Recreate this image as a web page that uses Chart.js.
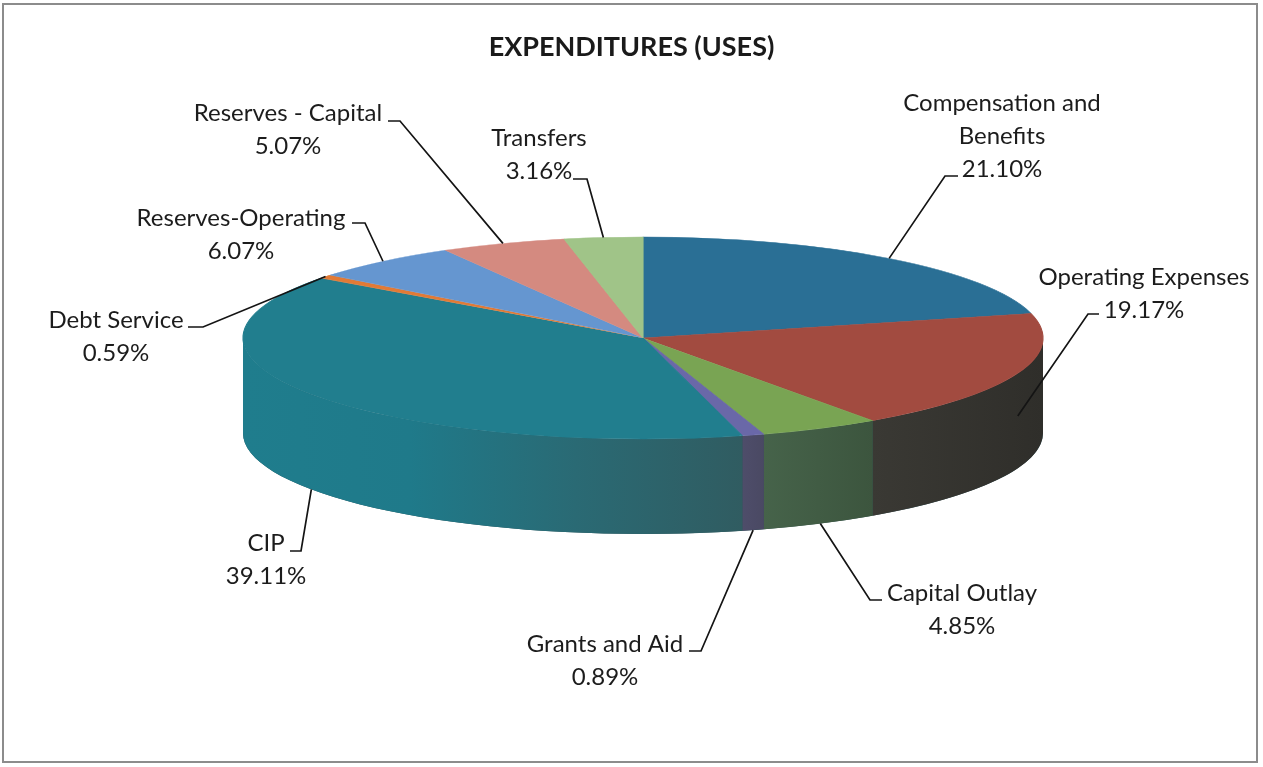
<!DOCTYPE html>
<html><head><meta charset="utf-8">
<script src="https://cdn.jsdelivr.net/npm/chart.js@4"></script>
<style>
html,body{margin:0;padding:0;background:#fff;}
#wrap{position:relative;width:1263px;height:767px;overflow:hidden;}
#frame{position:absolute;left:2px;top:3px;width:1256px;height:760px;border:2px solid #8c8c8c;box-sizing:border-box;pointer-events:none;}
canvas{position:absolute;left:0;top:0;}
</style></head><body>
<div id="wrap"><canvas id="c" width="1263" height="767"></canvas><div id="frame"></div></div>
<script>
// ---- data ----
const categories = ['Compensation and Benefits','Operating Expenses','Capital Outlay','Grants and Aid','CIP','Debt Service','Reserves-Operating','Reserves - Capital','Transfers'];
const values = [21.10, 19.17, 4.85, 0.89, 39.11, 0.59, 6.07, 5.07, 3.16];
const labelLines = [['Compensation and','Benefits'],['Operating Expenses'],['Capital Outlay'],['Grants and Aid'],['CIP'],['Debt Service'],['Reserves-Operating'],['Reserves - Capital'],['Transfers']];
const titleText = 'EXPENDITURES (USES)';

// ---- style ----
const topColors  = ['#2a6f95','#a24b40','#79a453','#6a68a8','#217e8e','#e27a35','#6596d0','#d48a80','#a0c488'];
const sideColors = [
  ['#1d4d68','#1d4d68'],
  ['#3a3934','#2f2e2a'],
  ['#46634a','#3c553e'],
  ['#4e4d6a','#4a4963'],
  ['#1f7d8d','#1f7a8a','#2a6a74','#305c61'],
  ['#9c5424','#9c5424'],
  ['#466a92','#466a92'],
  ['#945f59','#945f59'],
  ['#6f895e','#6f895e']
];
// label layout: text centre x, first line centre y, leader: tail x, elbow x, y, attach depth fraction
const labelLayout = [
  {x:1002, y:103, tail:958,  elbow:945,  hy:176, attach:0},
  {x:1144, y:277, tail:1099, elbow:1088, hy:314, attach:0.45},
  {x:962,  y:593, tail:882,  elbow:870,  hy:600, attach:1},
  {x:605,  y:644, tail:689,  elbow:701,  hy:651, attach:1},
  {x:266,  y:543, tail:290,  elbow:301,  hy:551, attach:1},
  {x:116,  y:320, tail:188,  elbow:203,  hy:327, attach:0},
  {x:241,  y:218, tail:352,  elbow:365,  hy:223, attach:0},
  {x:288,  y:113, tail:388,  elbow:400,  hy:121, attach:0},
  {x:539,  y:138, tail:573,  elbow:587,  hy:179, attach:0}
];
const CX = 643, CY = 338, RX = 400, RY = 101, DEPTH = 95;
const FONT = 'Lato, "Open Sans", sans-serif';
const FS = 24, LH = 33;

const pie3d = {
  id: 'pie3d',
  beforeDatasetsDraw(chart) {
    const ctx = chart.ctx;
    const arcs = chart.getDatasetMeta(0).data;
    const a0 = arcs[0];
    const R = a0.outerRadius, ax = a0.x, ay = a0.y;
    ctx.save();
    ctx.beginPath();
    ctx.ellipse(CX, CY, RX, RY, 0, 0, Math.PI, false);
    ctx.lineTo(CX - RX, CY + DEPTH);
    ctx.ellipse(CX, CY + DEPTH, RX, RY, 0, Math.PI, 0, true);
    ctx.closePath();
    ctx.fillStyle = '#2c4f55';
    ctx.fill();
    arcs.forEach((arc, i) => {
      const s = Math.max(arc.startAngle, 0), e = Math.min(arc.endAngle, Math.PI);
      if (e <= s) return;
      const xa = CX + RX * Math.cos(e), xb = CX + RX * Math.cos(s);
      const g = ctx.createLinearGradient(Math.min(xa, xb), 0, Math.max(xa, xb) + 0.01, 0);
      const sc = sideColors[i];
      sc.forEach((c, k) => g.addColorStop(sc.length > 1 ? k / (sc.length - 1) : 0, c));
      ctx.beginPath();
      ctx.ellipse(CX, CY, RX, RY, 0, s, e, false);
      ctx.lineTo(CX + RX * Math.cos(e), CY + DEPTH + RY * Math.sin(e));
      ctx.ellipse(CX, CY + DEPTH, RX, RY, 0, e, s, true);
      ctx.closePath();
      ctx.fillStyle = g;
      ctx.fill();
    });
    ctx.restore();
    ctx.save();
    ctx.translate(CX, CY);
    ctx.scale(RX / R, RY / R);
    ctx.translate(-ax, -ay);
  },
  afterDatasetsDraw(chart) {
    const ctx = chart.ctx;
    ctx.restore();
    const arcs = chart.getDatasetMeta(0).data;
    ctx.save();
    ctx.strokeStyle = '#141414';
    ctx.lineWidth = 1.7;
    ctx.fillStyle = '#1c1c1c';
    ctx.font = FS + 'px ' + FONT;
    ctx.textAlign = 'center';
    ctx.textBaseline = 'middle';
    arcs.forEach((arc, i) => {
      const L = labelLayout[i];
      const mid = (arc.startAngle + arc.endAngle) / 2;
      const px = CX + RX * Math.cos(mid);
      const py = CY + RY * Math.sin(mid) + L.attach * DEPTH;
      ctx.beginPath();
      ctx.moveTo(L.tail, L.hy);
      ctx.lineTo(L.elbow, L.hy);
      ctx.lineTo(px, py);
      ctx.stroke();
      const lines = labelLines[i].concat([values[i].toFixed(2) + '%']);
      lines.forEach((t, k) => ctx.fillText(t, L.x, L.y + k * LH));
    });
    ctx.restore();
  }
};

function build() {
  new Chart(document.getElementById('c'), {
    type: 'pie',
    data: {
      labels: categories,
      datasets: [{
        data: values,
        backgroundColor: topColors,
        borderColor: topColors,
        borderWidth: 1
      }]
    },
    options: {
      responsive: false,
      animation: false,
      events: [],
      layout: { padding: 0 },
      plugins: {
        legend: { display: false },
        tooltip: { enabled: false },
        title: {
          display: true,
          text: titleText,
          color: '#1a1a1a',
          font: { family: FONT, size: 27, weight: 'bold' },
          padding: { top: 31, bottom: 10 }
        }
      }
    },
    plugins: [pie3d]
  });
}
if (document.fonts && document.fonts.load) {
  Promise.all([document.fonts.load('24px Lato'), document.fonts.load('bold 27px Lato')]).then(build, build);
} else build();
</script>
</body></html>
